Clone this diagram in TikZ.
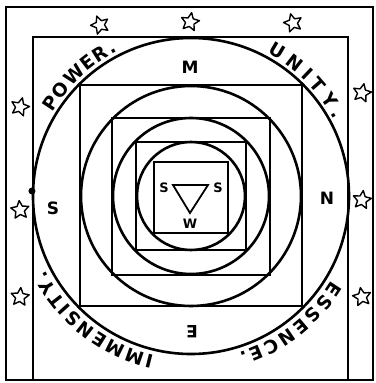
\documentclass[tikz,border=0pt]{standalone}
\usepackage{fontspec}
\newfontfamily\lab{DejaVu Sans}
\usetikzlibrary{shapes.geometric,decorations.text}
\begin{document}
\begin{tikzpicture}[x=1pt,y=1pt,
  ring/.style={line width=2.6pt},
  sq/.style={line width=2.1pt},
  frame/.style={line width=1.8pt},
  starmark/.style={star, star points=5, star point ratio=2.1, draw, line width=1.4pt, line join=round, minimum size=19pt, inner sep=0pt},
  card/.style={font=\lab\bfseries\fontsize{17}{17}\selectfont, inner sep=0pt},
  smalllab/.style={font=\lab\bfseries\fontsize{13}{13}\selectfont, inner sep=0pt},
  arctext/.style={decorate, decoration={text along path, text align={fit to path}, text={|\lab\bfseries\fontsize{18.5}{18.5}\selectfont|#1}}}]
\useasboundingbox (-191,-187) rectangle (184,196);
% frames
\draw[frame] (-185,-184) rectangle (182,189);
\draw[frame] (-158,-184) -- (-158,159) -- (157,159) -- (157,-184);
% circles and squares
\draw[ring] (0,0) circle[radius=158];
\draw[sq] (-111,-110) rectangle (111,111);
\draw[ring] (0,0) circle[radius=110];
\draw[sq] (-79,-79) rectangle (79,78);
\draw[ring] (0,0) circle[radius=78];
\draw[sq] (-55,-54) rectangle (55,54);
\draw[ring] (0,0) circle[radius=54];
\draw[sq] (-37,-37) rectangle (37,34);
% triangle
\coordinate (t1) at (-18,11);
\coordinate (t2) at (17,11);
\coordinate (t3) at (-1,-17);
\draw[line width=1.8pt, line join=miter] (t1) -- (t2) -- (t3) -- cycle;
\node[smalllab] (sl) at (-27,8) {S};
\node[smalllab] (sr) at (27,8) {S};
\node[smalllab] (w) at (-1,-28) {W};
% dot
\fill (-159,5) circle[radius=3.5];
% cardinal letters
\node[card] (m) at (-1,129) {M};
\node[card] (n) at (136,-2) {N};
\node[card, rotate=180] (e) at (1,-136) {E};
\node[card] (s) at (-138,-12) {S};
% curved texts
\path[arctext={POWER.}] (149:162) arc[start angle=149, end angle=117, radius=162];
\path[arctext={UNITY.}] (62:162) arc[start angle=62, end angle=28, radius=162];
\path[arctext={IMMENSITY.}] (257:164) arc[start angle=257, end angle=207, radius=164];
\path[arctext={ESSENCE.}] (329:164) arc[start angle=329, end angle=287, radius=164];
% stars
\node[starmark, rotate=20] (st1) at (-91,171) {};
\node[starmark, rotate=-10] (st2) at (-1,174) {};
\node[starmark, rotate=15] (st3) at (102,173) {};
\node[starmark, rotate=-15] (sl1) at (-171,89) {};
\node[starmark, rotate=5] (sl2) at (-171,-14) {};
\node[starmark, rotate=-5] (sl3) at (-171,-101) {};
\node[starmark, rotate=-12] (sr1) at (171,103) {};
\node[starmark, rotate=-8] (sr2) at (171,-4) {};
\node[starmark, rotate=10] (sr3) at (171,-101) {};
\end{tikzpicture}
\end{document}
